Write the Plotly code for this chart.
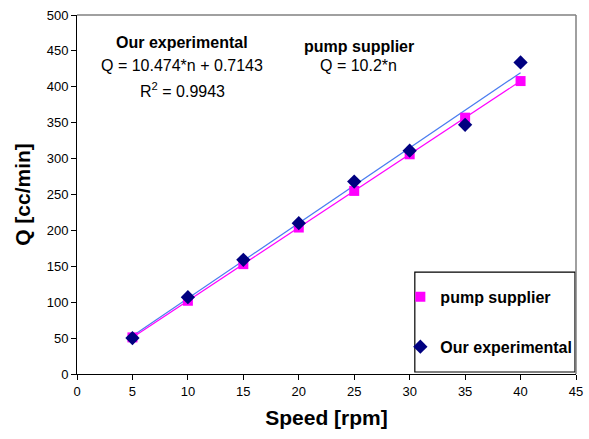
import plotly.graph_objects as go

speed = [5, 10, 15, 20, 25, 30, 35, 40]
pump_supplier = [51, 102, 153, 204, 255, 306, 357, 408]
experimental = [50, 107, 159, 210, 268, 311, 347, 434]
fit_slope = 10.474
fit_intercept = 0.7143
fit_line = [fit_slope * n + fit_intercept for n in speed]

FONT = "Liberation Sans, Arial, sans-serif"

fig = go.Figure()
# trend line for experimental
fig.add_trace(go.Scatter(x=speed, y=fit_line, mode="lines",
                         line=dict(color="#4a7cf0", width=1.2),
                         showlegend=False, hoverinfo="skip"))
# pump supplier line
fig.add_trace(go.Scatter(x=speed, y=pump_supplier, mode="lines",
                         line=dict(color="#ff00ff", width=1.2),
                         showlegend=False, hoverinfo="skip"))
fig.add_trace(go.Scatter(x=speed, y=pump_supplier, mode="markers",
                         name="pump supplier",
                         marker=dict(symbol="square", size=10, color="#ff00ff"),
                         legendgroup="a"))
fig.add_trace(go.Scatter(x=speed, y=experimental, mode="markers",
                         name="Our experimental",
                         marker=dict(symbol="diamond", size=11, color="#000080"),
                         legendgroup="b"))

fig.update_layout(
    width=589, height=439,
    margin=dict(l=77, r=13, t=15, b=65, autoexpand=False),
    paper_bgcolor="white", plot_bgcolor="white",
    font=dict(family=FONT, size=13, color="black"),
    xaxis=dict(range=[0, 45], dtick=5, tick0=0, showgrid=False, zeroline=False,
               showline=True, linecolor="black", linewidth=1,
               ticks="outside", ticklen=5, tickcolor="black",
               tickfont=dict(size=13, family=FONT),
               title=dict(text="<b>Speed [rpm]</b>", font=dict(size=21, family=FONT), standoff=12)),
    yaxis=dict(range=[0, 500], dtick=50, tick0=0, showgrid=False, zeroline=False,
               showline=True, linecolor="black", linewidth=1,
               ticks="outside", ticklen=5, tickcolor="black",
               tickfont=dict(size=13, family=FONT),
               title=dict(text="<b>Q [cc/min]</b>", font=dict(size=21, family=FONT), standoff=10)),
    legend=dict(x=0.648, y=0.262, xanchor="left", yanchor="top",
                borderwidth=0, bgcolor="rgba(0,0,0,0)",
                font=dict(size=16, family=FONT, color="black", weight="bold"),
                tracegroupgap=26, itemwidth=30),
    showlegend=True,
)

# plot frame: top & right in gray
fig.add_shape(type="line", xref="paper", yref="paper", x0=0, x1=1, y0=1, y1=1,
              line=dict(color="#808080", width=1.5))
fig.add_shape(type="line", xref="paper", yref="paper", x0=1, x1=1, y0=0, y1=1,
              line=dict(color="#808080", width=1.5))
# legend box
fig.add_shape(type="rect", xref="paper", yref="paper",
              x0=0.677, x1=0.998, y0=0.0056, y1=0.284,
              line=dict(color="black", width=1.2), fillcolor="white", layer="below")

ann = [
    (9.47, 462, "<b>Our experimental</b>"),
    (9.47, 430, "Q = 10.474*n + 0.7143"),
    (9.47, 395, "R<sup>2</sup> = 0.9943"),
    (25.4, 456, "<b>pump supplier</b>"),
    (25.4, 429, "Q = 10.2*n"),
]
for x, y, t in ann:
    fig.add_annotation(x=x, y=y, text=t, showarrow=False,
                       font=dict(size=16, family=FONT, color="black"))

fig.write_html("out.html")
